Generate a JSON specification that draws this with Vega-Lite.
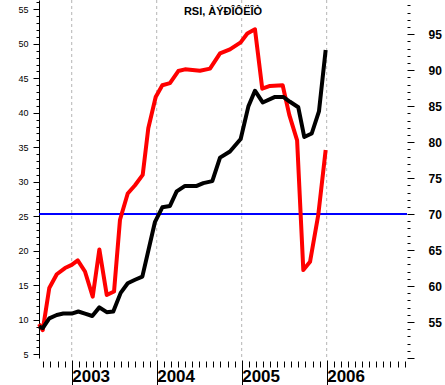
{
  "$schema": "https://vega.github.io/schema/vega-lite/v6.json",
  "width": 368,
  "height": 358,
  "autosize": {"type": "none"},
  "padding": {"left": 39, "top": 0, "right": 38, "bottom": 27},
  "background": "white",
  "config": {"view": {"stroke": null}, "font": "Liberation Sans"},
  "title": {"text": "RSI, ÀÝÐÎÔËÎÒ", "fontSize": 11, "fontWeight": "bold", "font": "Liberation Sans", "anchor": "middle", "baseline": "alphabetic", "offset": -26, "color": "black", "frame": "group"},
  "datasets": {
    "rsi": [
      {"series": "A", "year": 2002.615, "value": 9.4},
      {"series": "A", "year": 2002.659, "value": 8.5},
      {"series": "A", "year": 2002.736, "value": 14.6},
      {"series": "A", "year": 2002.824, "value": 16.6},
      {"series": "A", "year": 2002.921, "value": 17.5},
      {"series": "A", "year": 2003.0, "value": 17.95},
      {"series": "A", "year": 2003.071, "value": 18.6},
      {"series": "A", "year": 2003.156, "value": 17.0},
      {"series": "A", "year": 2003.247, "value": 13.35},
      {"series": "A", "year": 2003.325, "value": 20.2},
      {"series": "A", "year": 2003.412, "value": 13.6},
      {"series": "A", "year": 2003.498, "value": 14.1},
      {"series": "A", "year": 2003.568, "value": 24.5},
      {"series": "A", "year": 2003.659, "value": 28.3},
      {"series": "A", "year": 2003.745, "value": 29.5},
      {"series": "A", "year": 2003.835, "value": 31.0},
      {"series": "A", "year": 2003.901, "value": 37.75},
      {"series": "A", "year": 2003.988, "value": 42.3},
      {"series": "A", "year": 2004.066, "value": 44.0},
      {"series": "A", "year": 2004.156, "value": 44.3},
      {"series": "A", "year": 2004.254, "value": 46.05},
      {"series": "A", "year": 2004.333, "value": 46.3},
      {"series": "A", "year": 2004.509, "value": 46.1},
      {"series": "A", "year": 2004.627, "value": 46.4},
      {"series": "A", "year": 2004.745, "value": 48.6},
      {"series": "A", "year": 2004.862, "value": 49.2},
      {"series": "A", "year": 2004.988, "value": 50.2},
      {"series": "A", "year": 2005.066, "value": 51.5},
      {"series": "A", "year": 2005.156, "value": 52.1},
      {"series": "A", "year": 2005.242, "value": 43.5},
      {"series": "A", "year": 2005.333, "value": 43.9},
      {"series": "A", "year": 2005.482, "value": 44.0},
      {"series": "A", "year": 2005.56, "value": 39.7},
      {"series": "A", "year": 2005.652, "value": 36.0},
      {"series": "A", "year": 2005.725, "value": 17.2},
      {"series": "A", "year": 2005.804, "value": 18.4},
      {"series": "A", "year": 2005.901, "value": 25.2},
      {"series": "A", "year": 2005.988, "value": 34.6},
      {"series": "B", "year": 2002.615, "value": 9.0},
      {"series": "B", "year": 2002.659, "value": 8.8},
      {"series": "B", "year": 2002.736, "value": 10.2},
      {"series": "B", "year": 2002.824, "value": 10.7},
      {"series": "B", "year": 2002.901, "value": 10.9},
      {"series": "B", "year": 2003.0, "value": 10.9},
      {"series": "B", "year": 2003.078, "value": 11.2},
      {"series": "B", "year": 2003.156, "value": 10.9},
      {"series": "B", "year": 2003.242, "value": 10.55},
      {"series": "B", "year": 2003.325, "value": 11.8},
      {"series": "B", "year": 2003.412, "value": 11.1},
      {"series": "B", "year": 2003.489, "value": 11.2},
      {"series": "B", "year": 2003.576, "value": 13.9},
      {"series": "B", "year": 2003.659, "value": 15.3},
      {"series": "B", "year": 2003.745, "value": 15.8},
      {"series": "B", "year": 2003.831, "value": 16.25},
      {"series": "B", "year": 2003.98, "value": 24.2},
      {"series": "B", "year": 2004.066, "value": 26.3},
      {"series": "B", "year": 2004.156, "value": 26.5},
      {"series": "B", "year": 2004.235, "value": 28.6},
      {"series": "B", "year": 2004.333, "value": 29.4},
      {"series": "B", "year": 2004.471, "value": 29.4},
      {"series": "B", "year": 2004.548, "value": 29.8},
      {"series": "B", "year": 2004.654, "value": 30.1},
      {"series": "B", "year": 2004.745, "value": 33.5},
      {"series": "B", "year": 2004.862, "value": 34.4},
      {"series": "B", "year": 2004.988, "value": 36.2},
      {"series": "B", "year": 2005.078, "value": 40.9},
      {"series": "B", "year": 2005.156, "value": 43.2},
      {"series": "B", "year": 2005.247, "value": 41.5},
      {"series": "B", "year": 2005.392, "value": 42.3},
      {"series": "B", "year": 2005.489, "value": 42.3},
      {"series": "B", "year": 2005.568, "value": 41.6},
      {"series": "B", "year": 2005.666, "value": 40.8},
      {"series": "B", "year": 2005.736, "value": 36.5},
      {"series": "B", "year": 2005.824, "value": 37.0},
      {"series": "B", "year": 2005.909, "value": 40.2},
      {"series": "B", "year": 2005.988, "value": 49.1}
    ],
    "years": [{"year": 2003}, {"year": 2004}, {"year": 2005}, {"year": 2006}],
    "levels": [{"left": 25, "right": 70}]
  },
  "layer": [
    {
      "data": {"name": "years"},
      "mark": {"type": "rule", "stroke": "#b4b4b4", "strokeDash": [3, 3], "strokeWidth": 1},
      "encoding": {
        "x": {
          "field": "year", "type": "quantitative",
          "scale": {"domain": [2002.615, 2006.945], "nice": false, "zero": false},
          "axis": {
            "orient": "bottom", "title": null, "domain": false, "grid": false, "labels": false,
            "ticks": true, "tickSize": 6, "offset": 3, "tickColor": "black", "tickWidth": 1,
            "values": [2002.6667, 2002.75, 2002.8333, 2002.9167,
              2003.0833, 2003.1667, 2003.25, 2003.3333, 2003.4167, 2003.5, 2003.5833, 2003.6667, 2003.75, 2003.8333, 2003.9167,
              2004.0833, 2004.1667, 2004.25, 2004.3333, 2004.4167, 2004.5, 2004.5833, 2004.6667, 2004.75, 2004.8333, 2004.9167,
              2005.0833, 2005.1667, 2005.25, 2005.3333, 2005.4167, 2005.5, 2005.5833, 2005.6667, 2005.75, 2005.8333, 2005.9167,
              2006.0833, 2006.1667, 2006.25, 2006.3333, 2006.4167, 2006.5, 2006.5833, 2006.6667, 2006.75, 2006.8333, 2006.9167]
          }
        }
      }
    },
    {
      "data": {"name": "levels"},
      "mark": {"type": "rule", "stroke": "#0000ff", "strokeWidth": 2},
      "encoding": {
        "y": {
          "field": "right", "type": "quantitative",
          "scale": {"domain": [50, 99.76], "nice": false, "zero": false},
          "axis": {
            "orient": "right", "title": null, "domain": false, "grid": false,
            "values": [50, 55, 60, 65, 70, 75, 80, 85, 90, 95],
            "tickSize": 7, "tickColor": "black", "tickWidth": 1,
            "labelPadding": 14, "labelFontSize": 12, "labelFontWeight": "bold", "labelColor": "black",
            "labelFont": "Liberation Sans", "labelAlign": "left", "labelBaseline": "middle",
            "labelExpr": "datum.value == 50 ? '' : datum.label"
          }
        }
      }
    },
    {
      "data": {"name": "levels"},
      "mark": {"type": "point", "opacity": 0},
      "encoding": {
        "y": {
          "field": "right", "type": "quantitative",
          "scale": {"domain": [50, 99.76], "nice": false, "zero": false},
          "axis": {
            "orient": "right", "title": null, "domain": false, "grid": false, "labels": false,
            "values": [51, 52, 53, 54, 56, 57, 58, 59, 61, 62, 63, 64, 66, 67, 68, 69, 71, 72, 73, 74, 76, 77, 78, 79, 81, 82, 83, 84, 86, 87, 88, 89, 91, 92, 93, 94, 96, 97, 98, 99],
            "tickSize": 3, "tickColor": "black", "tickWidth": 1
          }
        }
      }
    },
    {
      "data": {"name": "rsi"},
      "mark": {"type": "point", "opacity": 0},
      "encoding": {
        "y": {
          "field": "value", "type": "quantitative",
          "scale": {"domain": [4.46, 56.35], "nice": false, "zero": false},
          "axis": {
            "orient": "left", "title": null, "domain": false, "grid": false, "labels": false,
            "values": [6, 7, 8, 9, 11, 12, 13, 14, 16, 17, 18, 19, 21, 22, 23, 24, 26, 27, 28, 29, 31, 32, 33, 34, 36, 37, 38, 39, 41, 42, 43, 44, 46, 47, 48, 49, 51, 52, 53, 54, 56],
            "tickSize": 3, "tickColor": "black", "tickWidth": 1
          }
        }
      }
    },
    {
      "data": {"name": "rsi"},
      "mark": {"type": "line", "strokeWidth": 4, "strokeJoin": "round", "strokeCap": "butt"},
      "encoding": {
        "x": {
          "field": "year", "type": "quantitative",
          "scale": {"domain": [2002.615, 2006.945], "nice": false, "zero": false},
          "axis": {
            "orient": "bottom", "title": null, "domain": false, "grid": false,
            "values": [2003, 2004, 2005, 2006],
            "tickSize": 25, "offset": 2, "tickColor": "black", "tickWidth": 1,
            "labelPadding": -4, "labelBaseline": "alphabetic", "labelAlign": "left", "labelDx": 1.5,
            "labelFontSize": 17, "labelFontWeight": "bold", "labelFont": "Liberation Sans", "labelColor": "black",
            "labelFlush": false, "labelOverlap": false, "format": "d"
          }
        },
        "y": {
          "field": "value", "type": "quantitative",
          "scale": {"domain": [4.46, 56.35], "nice": false, "zero": false},
          "axis": {
            "orient": "left", "title": null, "domain": true, "domainColor": "black", "domainWidth": 1, "grid": false,
            "values": [5, 10, 15, 20, 25, 30, 35, 40, 45, 50, 55],
            "tickSize": 6, "tickColor": "black", "tickWidth": 1,
            "labelPadding": 5, "labelFontSize": 9, "labelFont": "Liberation Sans", "labelColor": "black"
          }
        },
        "color": {
          "field": "series", "type": "nominal",
          "scale": {"domain": ["A", "B"], "range": ["#ff0000", "#000000"]},
          "legend": null
        }
      }
    }
  ],
  "resolve": {"scale": {"y": "independent"}, "axis": {"x": "independent", "y": "independent"}}
}
